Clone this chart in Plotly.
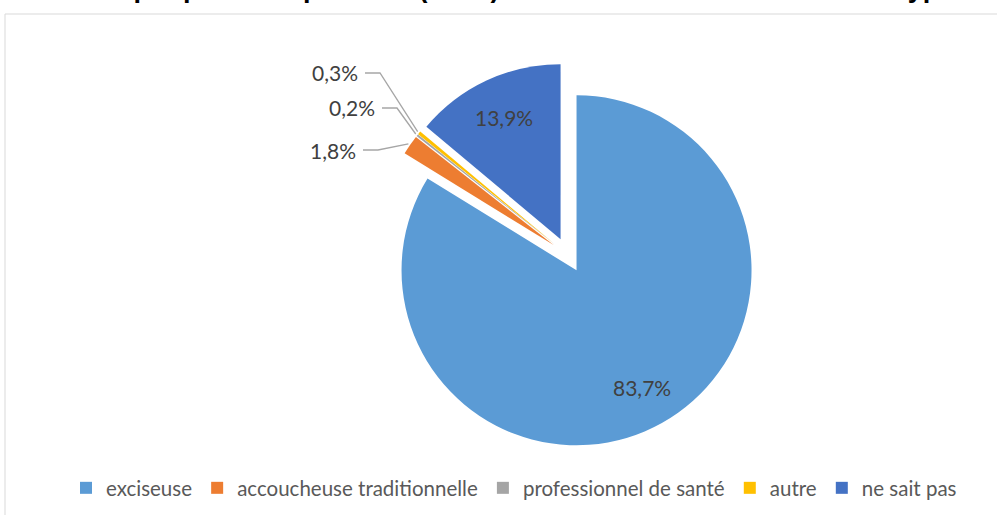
import math
import plotly.graph_objects as go

# Répartition des femmes excisées selon le type d'exciseur (en %)
categories = ["exciseuse", "accoucheuse traditionnelle", "professionnel de santé", "autre", "ne sait pas"]
values = [83.7, 1.8, 0.2, 0.3, 13.9]
colors = ["#5B9BD5", "#ED7D31", "#A5A5A5", "#FFC000", "#4472C4"]

W, H = 997, 515
PULL = 0.1
FONT = "Lato"
TXT = "#404040"

# pie geometry in pixels (domain is square)
cx, cy = 568, 255
outer = 192.5
radius = outer / (1 + PULL)
dom_x = [(cx - outer) / W, (cx + outer) / W]
dom_y = [1 - (cy + outer) / H, 1 - (cy - outer) / H]


def fmt(v):
    return f"{v:.1f}".replace(".", ",") + "%"


def px(x):
    return x / W


def py(y):
    return 1 - y / H


fig = go.Figure(
    go.Pie(
        labels=categories,
        values=values,
        textinfo="none",
        marker=dict(colors=colors, line=dict(width=0)),
        sort=False,
        direction="clockwise",
        rotation=0,
        pull=[PULL] * len(values),
        domain=dict(x=dom_x, y=dom_y),
        hoverinfo="label+percent",
    )
)

# mid angle of each slice, clockwise from 12 o'clock
total = sum(values)
cum = 0.0
mid_angles = []
for v in values:
    mid_angles.append((cum + v / 2) / total * 360.0)
    cum += v

shapes = []
annotations = []

# labels drawn inside the large slices
for i, v in enumerate(values):
    if v < 5:
        continue
    a = math.radians(mid_angles[i])
    dist = PULL * radius + 0.77 * radius
    annotations.append(dict(x=px(cx + math.sin(a) * dist), y=py(cy - math.cos(a) * dist),
                            xref="paper", yref="paper", text=fmt(v), showarrow=False,
                            xanchor="center", yanchor="middle",
                            font=dict(family=FONT, size=21, color=TXT)))

# outside labels with leader lines for the thin slices
label_pos = {
    3: (360, 73),   # autre
    2: (377, 108),  # professionnel de santé
    1: (358, 150),  # accoucheuse traditionnelle
}
for i, (lx, ly) in label_pos.items():
    a = math.radians(mid_angles[i])
    tip_x = cx + math.sin(a) * (outer + 2)
    tip_y = cy - math.cos(a) * (outer + 2)
    path = f"M {px(lx + 5)} {py(ly)} L {px(lx + 20)} {py(ly)} L {px(tip_x)} {py(tip_y)}"
    shapes.append(dict(type="path", xref="paper", yref="paper", path=path,
                       line=dict(color="#A6A6A6", width=1.3)))
    annotations.append(dict(x=px(lx), y=py(ly), xref="paper", yref="paper",
                            text=fmt(values[i]), showarrow=False,
                            xanchor="right", yanchor="middle",
                            font=dict(family=FONT, size=21, color=TXT)))

# chart area border
shapes.append(dict(type="rect", xref="paper", yref="paper",
                   x0=px(5), x1=1.05, y0=-0.05, y1=py(14),
                   line=dict(color="#D9D9D9", width=1), fillcolor="rgba(0,0,0,0)", layer="below"))

# title (runs past the top edge)
annotations.append(dict(x=px(85), y=py(5), xref="paper", yref="paper",
                        xanchor="left", yanchor="bottom", showarrow=False,
                        text="<b>Graphique 3 : Répartition (en %) des femmes excisées selon le type d'exciseur</b>",
                        font=dict(family="Liberation Sans", size=27, color="#000000")))

fig.update_layout(
    width=W, height=H,
    margin=dict(l=0, r=0, t=0, b=0),
    paper_bgcolor="white",
    plot_bgcolor="white",
    shapes=shapes,
    annotations=annotations,
    showlegend=True,
    legend=dict(orientation="h", x=514 / W, xanchor="center", y=py(488), yanchor="middle",
                font=dict(family=FONT, size=20.5, color="#595959"),
                itemwidth=30, traceorder="normal"),
)

fig.write_html("out.html")
